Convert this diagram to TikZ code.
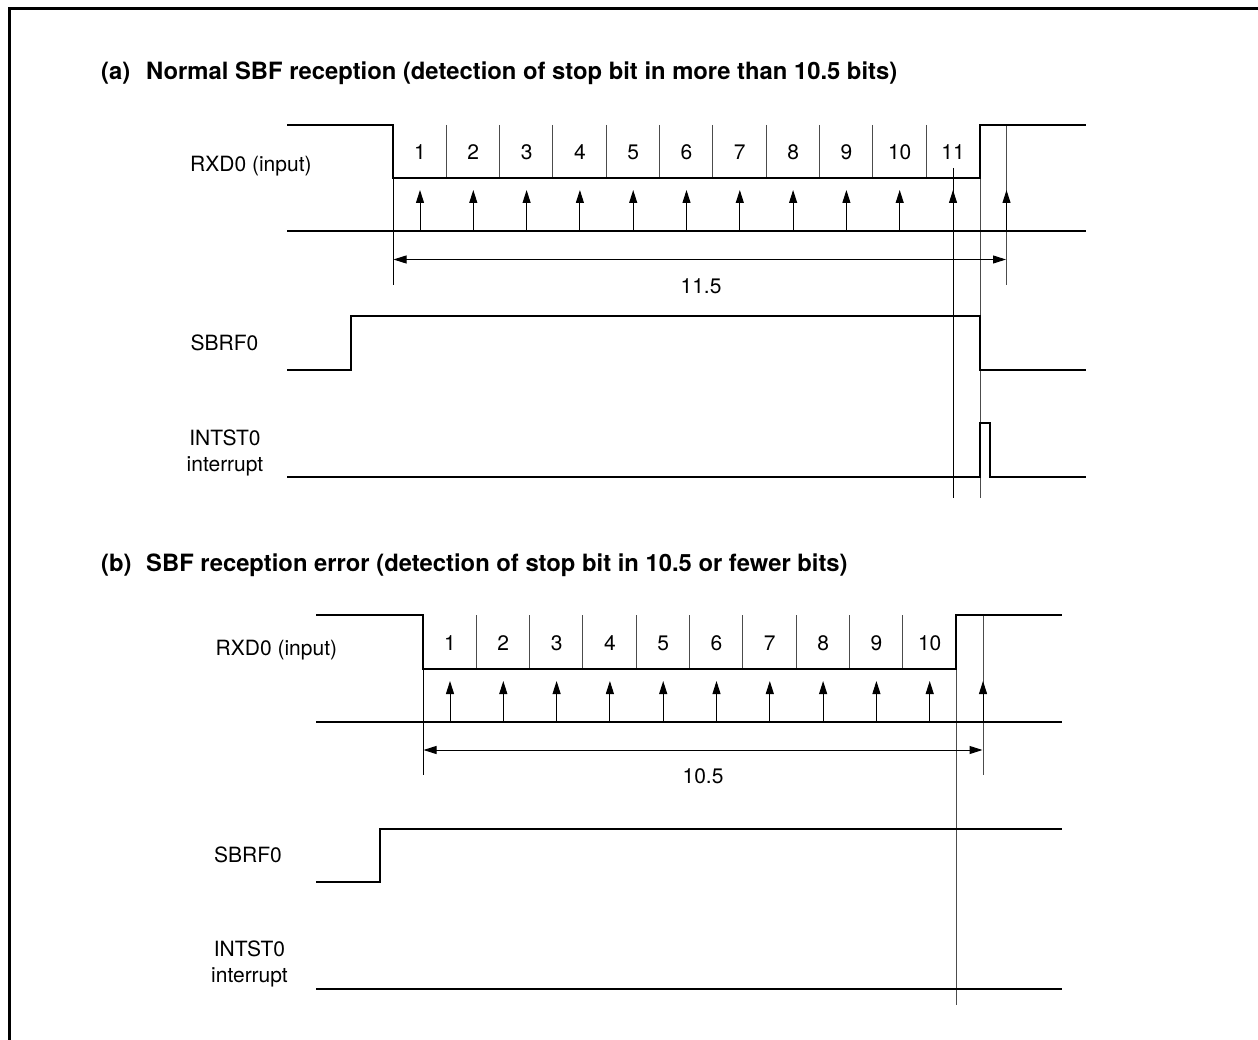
\documentclass[tikz,border=0pt]{standalone}
\usepackage{fontspec}
\setmainfont{TeX Gyre Heros}
\usetikzlibrary{arrows.meta}
\tikzset{
  signal/.style={line width=2.8pt,line join=miter},
  thin line/.style={line width=1pt},
  tick line/.style={line width=1pt,black!70},
  sample/.style={line width=1pt,-{Triangle[length=13pt,width=8pt]}},
  span/.style={line width=1pt,{Triangle[length=13pt,width=8pt]}-{Triangle[length=13pt,width=8pt]}},
  label/.style={inner sep=0,font=\fontsize{21}{26}\selectfont},
  title/.style={inner sep=0,anchor=base west,font=\fontsize{23.8}{28}\selectfont\bfseries}
}
\begin{document}
\begin{tikzpicture}[x=1pt,y=-1pt]
  \useasboundingbox (0,0) rectangle (1258,1040);
  \def\bitw{53.3}
  % --- Cadre ---
  \draw[line width=3pt] (9.5,1040) -- (9.5,8.5) -- (1258,8.5);

  % --- (a) ---
  \node[title] (titleAtag) at (101,79.5) {(a)};
  \node[title] (titleA) at (146,79.5) {Normal SBF reception (detection of stop bit in more than 10.5 bits)};
  \node[label,anchor=base west] (rxdA) at (190,172) {RXD0 (input)};
  \node[label,anchor=base west] (sbrfA) at (190.5,351) {SBRF0};
  \node[label,align=center] (intA) at (225,453) {INTST0\\interrupt};
  \foreach \nn in {1,...,10}{%
    \pgfmathsetmacro{\xx}{393+\nn*\bitw}
    \draw[tick line] (\xx,125) -- (\xx,178);
  }
  \foreach \nn in {1,...,11}{%
    \pgfmathsetmacro{\xx}{420+(\nn-1)*\bitw}
    \node[label] (bitA\nn) at (\xx,152) {\nn};
  }
  \foreach \nn in {1,...,10}{%
    \pgfmathsetmacro{\xx}{420+(\nn-1)*\bitw}
    \draw[sample] (\xx,231) -- (\xx,190);
  }
  \draw[thin line] (393,178) -- (393,285);
  \draw[thin line] (953,168) -- (953,498);
  \draw[tick line] (980,178) -- (980,498);
  \draw[tick line] (1006.5,125) -- (1006.5,285);
  \draw[sample] (953,231) -- (953,190);
  \draw[sample] (1006.5,231) -- (1006.5,190);
  \draw[span] (393.5,259.5) -- (1006,259.5);
  \node[label] (spanA) at (701,286) {11.5};
  \draw[signal] (287,125) -| (393,178) -| (980,125) -- (1086,125);
  \draw[signal] (287,231) -- (1086,231);
  \draw[signal] (287,370) -| (351,316) -| (980,370) -- (1086,370);
  \draw[signal] (287,477) -| (980,423) -| (990,477) -- (1086,477);

  % --- (b) ---
  \node[title] (titleBtag) at (101,571) {(b)};
  \node[title] (titleB) at (146,571) {SBF reception error (detection of stop bit in 10.5 or fewer bits)};
  \node[label,anchor=base west] (rxdB) at (215.5,655) {RXD0 (input)};
  \node[label,anchor=base west] (sbrfB) at (214,862.5) {SBRF0};
  \node[label,align=center] (intB) at (249.5,964) {INTST0\\interrupt};
  \foreach \nn in {1,...,9}{%
    \pgfmathsetmacro{\xx}{423+\nn*\bitw}
    \draw[tick line] (\xx,615) -- (\xx,669);
  }
  \foreach \nn in {1,...,10}{%
    \pgfmathsetmacro{\xx}{450+(\nn-1)*\bitw}
    \node[label] (bitB\nn) at (\xx,643) {\nn};
    \draw[sample] (\xx,722) -- (\xx,681);
  }
  \draw[thin line] (423,669) -- (423,775);
  \draw[tick line] (956,669) -- (956,1005);
  \draw[tick line] (983,615) -- (983,775);
  \draw[sample] (983,722) -- (983,681);
  \draw[span] (423.5,750) -- (982.5,750);
  \node[label] (spanB) at (703,776) {10.5};
  \draw[signal] (316,615) -| (423,669) -| (956,615) -- (1062,615);
  \draw[signal] (316,722) -- (1062,722);
  \draw[signal] (316,882) -| (380,829) -- (1062,829);
  \draw[signal] (316,989) -- (1062,989);
\end{tikzpicture}
\end{document}
